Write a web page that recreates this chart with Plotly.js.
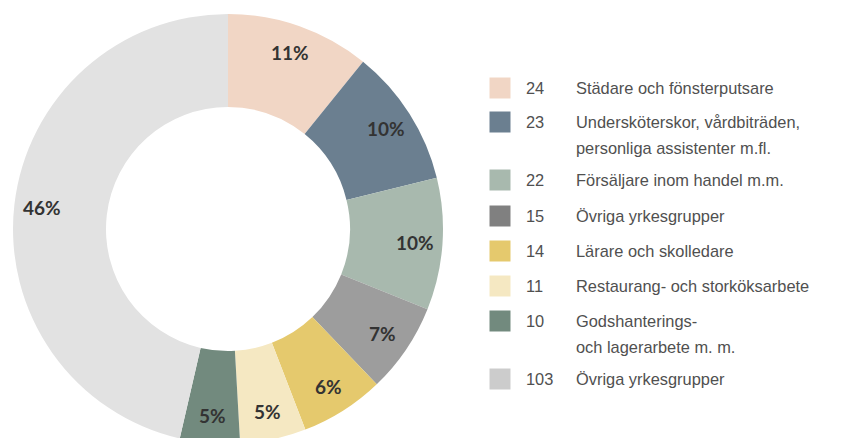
<!DOCTYPE html>
<html><head><meta charset="utf-8">
<script src="https://cdn.plot.ly/plotly-3.0.1.min.js"></script>
<style>html,body{margin:0;padding:0;overflow:hidden;background:#fff}#chart{width:847px;height:450px}</style>
</head><body><div id="chart"></div>
<script>
// ---- data ----
const categories = [
  "Städare och fönsterputsare",
  "Undersköterskor, vårdbiträden,<br>personliga assistenter m.fl.",
  "Försäljare inom handel m.m.",
  "Övriga yrkesgrupper",
  "Lärare och skolledare",
  "Restaurang- och storköksarbete",
  "Godshanterings-<br>och lagerarbete m. m.",
  "Övriga yrkesgrupper"
];
const counts = [24, 23, 22, 15, 14, 11, 10, 103];
const percentLabels = ["11%", "10%", "10%", "7%", "6%", "5%", "5%", "46%"];

// ---- styles / layout ----
const sliceColors  = ["#F1D6C5", "#6B7F90", "#A8B9AE", "#9D9D9D", "#E5C96D", "#F5E8C2", "#728A7E", "#E2E2E2"];
const legendColors = ["#F1D6C5", "#6B7F90", "#A8B9AE", "#808080", "#E5C96D", "#F5E8C2", "#728A7E", "#CCCCCC"];
const legendRowY = [88, 122, 180, 216, 251, 286, 321, 379];

const W = 847, H = 450;
const cx = 228, cy = 229, R = 215, rInner = 122;
const px = x => x / W, py = y => 1 - y / H;

const trace = {
  type: 'pie',
  values: counts,
  labels: categories.map((c, i) => i + ': ' + c),
  sort: false,
  direction: 'clockwise',
  rotation: 0,
  hole: rInner / R,
  textinfo: 'none',
  hoverinfo: 'skip',
  marker: {colors: sliceColors, line: {width: 0}},
  domain: {x: [px(cx - R), px(cx + R)], y: [py(cy + R), py(cy - R)]},
  showlegend: false
};

const total = counts.reduce((a, b) => a + b, 0);
const annotations = [];
let cum = 0;
const rLab = 187;
counts.forEach((v, i) => {
  const mid = (cum + v / 2) / total * 2 * Math.PI;
  cum += v;
  annotations.push({
    xref: 'paper', yref: 'paper',
    x: px(cx + rLab * Math.sin(mid)), y: py(cy - rLab * Math.cos(mid)),
    text: '<b>' + percentLabels[i] + '</b>', showarrow: false,
    xanchor: 'center', yanchor: 'middle',
    font: {family: 'Lato, "Open Sans", sans-serif', size: 19, color: '#333333'}
  });
});

const shapes = [];
const legFont = {family: '"Liberation Sans", Arial, sans-serif', size: 16.4, color: '#505050'};
counts.forEach((v, i) => {
  const y = legendRowY[i];
  shapes.push({type: 'rect', xref: 'paper', yref: 'paper',
    x0: px(489.5), x1: px(510.5), y0: py(y - 10.5), y1: py(y + 10.5),
    fillcolor: legendColors[i], line: {width: 0}});
  annotations.push({xref: 'paper', yref: 'paper', x: px(524), y: py(y),
    text: String(v), showarrow: false, xanchor: 'left', yanchor: 'middle', font: legFont});
  categories[i].split('<br>').forEach((line, k) => {
    annotations.push({xref: 'paper', yref: 'paper', x: px(574), y: py(y + 26 * k),
      text: line, showarrow: false, xanchor: 'left', yanchor: 'middle', font: legFont});
  });
});

Plotly.newPlot('chart', [trace], {
  width: W, height: H,
  margin: {l: 0, r: 0, t: 0, b: 0, pad: 0},
  paper_bgcolor: '#ffffff', plot_bgcolor: '#ffffff',
  showlegend: false,
  annotations: annotations, shapes: shapes
}, {displayModeBar: false, staticPlot: true});
</script></body></html>
